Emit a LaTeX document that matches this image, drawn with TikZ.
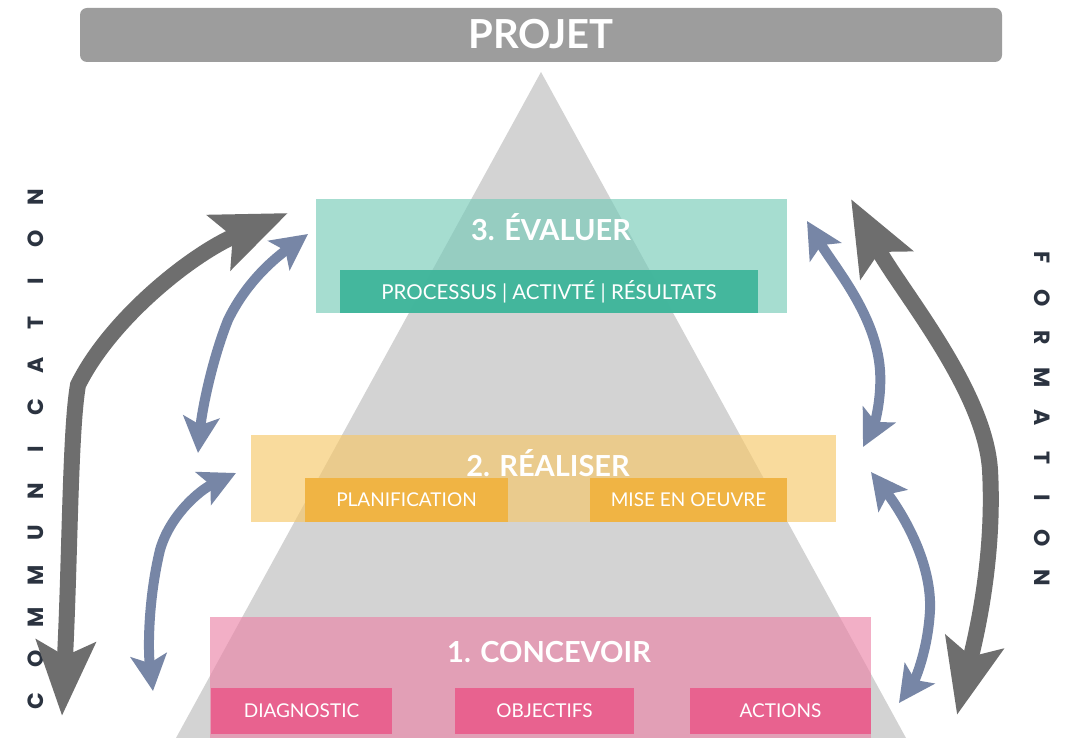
\documentclass[tikz,border=0pt]{standalone}
\usepackage{fontspec}
\setmainfont{Lato}
\newfontfamily\sidefont{Poppins}
\usetikzlibrary{arrows.meta,positioning}

\definecolor{barGray}{HTML}{9D9D9D}
\definecolor{pyraGray}{HTML}{D3D3D3}
\definecolor{tealLight}{RGB}{116,202,183}
\definecolor{tealDark}{HTML}{3FB59B}
\definecolor{yellowLight}{RGB}{247,200,103}
\definecolor{yellowDark}{HTML}{F0B444}
\definecolor{pinkLight}{RGB}{235,130,166}
\definecolor{pinkDark}{HTML}{E8628F}
\definecolor{arrowBlue}{HTML}{7786A6}
\definecolor{arrowGray}{HTML}{6E6E6E}
\definecolor{sideText}{HTML}{2B3340}

\tikzset{
  stage/.style = {shape = rectangle, inner sep = 0pt, fill opacity = 0.64, text opacity = 1},
  stagetitle/.style = {text = white, anchor = base, font = \bfseries\fontsize{29}{29}\selectfont},
  task/.style = {shape = rectangle, inner sep = 0pt, text = white, font = \fontsize{19}{19}\selectfont},
  sideletter/.style = {text = sideText, font = \sidefont\bfseries\fontsize{22}{22}\selectfont},
  bluearrow/.style = {arrowBlue, line width = 10pt,
    {Stealth[length = 36pt, width = 36pt, inset = 8pt]}-{Stealth[length = 36pt, width = 36pt, inset = 8pt]}},
  grayarrow/.style = {arrowGray, line width = 16pt,
    {Stealth[length = 74pt, width = 58pt, inset = 14pt]}-{Stealth[length = 74pt, width = 58pt, inset = 14pt]}}
}

\begin{document}
\begin{tikzpicture}[x = 1pt, y = -1pt]
\useasboundingbox (0,0) rectangle (1077,738);
\fill[white] (0,0) rectangle (1077,738);

% projet bar and pyramid
\node[fill = barGray, rounded corners = 7pt, minimum width = 922pt, minimum height = 54pt] (projet) at (541,35) {};
\node[anchor = base, text = white, font = \bfseries\fontsize{40}{40}\selectfont] (projettitle) at (541,49) {PROJET};
\fill[pyraGray] (541,72) -- (176,738) -- (906,738) -- cycle;

% stage 3
\node[stage, fill = tealLight, minimum width = 471pt, minimum height = 114pt] (evaluer) at (551.5,256) {};
\node[stage, fill = tealDark, fill opacity = 0.95, minimum width = 418pt, minimum height = 43pt, text = white, font = \fontsize{20.5}{20.5}\selectfont] (processus) at (549,291.5) {PROCESSUS | ACTIVTÉ | RÉSULTATS};
\node[stagetitle] (evaluertitle) at (551,241) {3. ÉVALUER};

% stage 2
\node[stage, fill = yellowLight, minimum width = 585pt, minimum height = 87pt] (realiser) at (543.5,478.5) {};
\node[task, fill = yellowDark, minimum width = 203pt, minimum height = 44pt] (planif) at (406.5,500) {PLANIFICATION};
\node[task, fill = yellowDark, minimum width = 197pt, minimum height = 44pt] (oeuvre) at (688.5,500) {MISE EN OEUVRE};
\node[stagetitle] (realisertitle) at (548,476) {2. RÉALISER};

% stage 1
\node[stage, fill = pinkLight, minimum width = 661pt, minimum height = 121pt] (concevoir) at (540.5,677.5) {};
\node[task, fill = pinkDark, minimum width = 181pt, minimum height = 46pt] (diag) at (301.5,711) {DIAGNOSTIC};
\node[task, fill = pinkDark, minimum width = 179pt, minimum height = 46pt] (objectifs) at (544.5,711) {OBJECTIFS};
\node[task, fill = pinkDark, minimum width = 181pt, minimum height = 46pt] (actions) at (780.5,711) {ACTIONS};
\node[stagetitle] (concevoirtitle) at (549,662) {1. CONCEVOIR};

% side labels
\foreach \l [count = \i] in {C,O,M,M,U,N,I,C,A,T,I,O,N}
  \node[sideletter, rotate = 90] (comm\i) at (36,{701-42*(\i-1)}) {\l};
\foreach \l [count = \i] in {F,O,R,M,A,T,I,O,N}
  \node[sideletter, rotate = -90] (form\i) at (1042,{258+40*(\i-1)}) {\l};

% arrow ends
\coordinate (lgA) at (62,716);
\coordinate (lgB) at (288,213);
\coordinate (lbA) at (308,234);
\coordinate (lbB) at (198,453);
\coordinate (lcA) at (236,473);
\coordinate (lcB) at (153,691);
\coordinate (rgA) at (851,199);
\coordinate (rgB) at (957,715);
\coordinate (rbA) at (807,221);
\coordinate (rbB) at (863,447);
\coordinate (rcA) at (871,472);
\coordinate (rcB) at (899,703);

% arrows
\draw[grayarrow] (lgA) .. controls (70,560) and (70,430) .. (78,385) .. controls (110,320) and (190,255) .. (lgB);
\draw[bluearrow] (lbA) .. controls (270,262) and (245,285) .. (228,320) .. controls (212,360) and (202,410) .. (lbB);
\draw[bluearrow] (lcA) .. controls (200,490) and (170,515) .. (160,550) .. controls (148,600) and (148,650) .. (lcB);
\draw[grayarrow] (rgA) .. controls (900,290) and (985,390) .. (990,470) .. controls (995,560) and (975,640) .. (rgB);
\draw[bluearrow] (rbA) .. controls (835,268) and (876,315) .. (880,370) .. controls (882,400) and (874,425) .. (rbB);
\draw[bluearrow] (rcA) .. controls (900,510) and (932,560) .. (930,610) .. controls (928,650) and (915,680) .. (rcB);
\end{tikzpicture}
\end{document}
